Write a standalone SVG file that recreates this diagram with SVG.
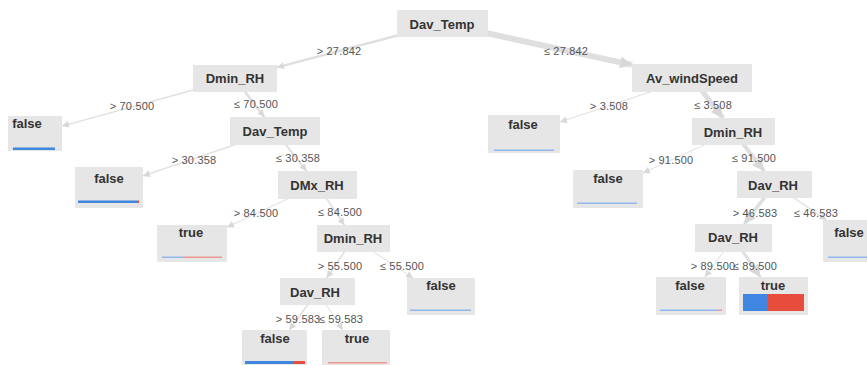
<svg xmlns="http://www.w3.org/2000/svg" width="867" height="365" viewBox="0 0 867 365">
<style>
.bg{fill:#ffffff}
.box{fill:#e6e6e6}
.nl{font-family:"Liberation Sans",Arial,sans-serif;font-size:13px;font-weight:bold;fill:#333333;text-anchor:middle}
.el{font-family:"Liberation Sans",Arial,sans-serif;font-size:11px;fill:#555555;text-anchor:middle;letter-spacing:0.2px}
.e{stroke:#dfdfdf;fill:none;stroke-linecap:butt}
.b{fill:#3f86e0}
.r{fill:#e74c3c}
.lb{fill:#92b8ea}
.lr{fill:#eb9a90}
</style>
<defs>
<marker id="ah" viewBox="0 0 10 10" refX="10" refY="5" markerUnits="userSpaceOnUse" markerWidth="7" markerHeight="7" orient="auto"><path d="M0,0 L10,5 L0,10 z" fill="#d8d8d8"/></marker>
<marker id="ahL" viewBox="0 0 10 10" refX="10" refY="5" markerUnits="userSpaceOnUse" markerWidth="12" markerHeight="12" orient="auto"><path d="M0,0 L10,5 L0,10 z" fill="#d8d8d8"/></marker>
</defs>
<rect class="bg" x="0" y="0" width="867" height="365"/>
<g id="connectors">
<line class="e" x1="442.5" y1="23.5" x2="277" y2="67.4" stroke-width="2.5" marker-end="url(#ah)"/>
<line class="e" x1="442.5" y1="23.5" x2="632" y2="64.9" stroke-width="6" marker-end="url(#ahL)"/>
<line class="e" x1="235" y1="78.5" x2="62" y2="126.1" stroke-width="1.5" marker-end="url(#ah)"/>
<line class="e" x1="235" y1="78.5" x2="264.3" y2="117" stroke-width="2.5" marker-end="url(#ah)"/>
<line class="e" x1="275" y1="131" x2="143" y2="175.9" stroke-width="1.5" marker-end="url(#ah)"/>
<line class="e" x1="275" y1="131" x2="306.5" y2="171" stroke-width="2" marker-end="url(#ah)"/>
<line class="e" x1="317.5" y1="185" x2="227" y2="227.2" stroke-width="1" marker-end="url(#ah)"/>
<line class="e" x1="317.5" y1="185" x2="344.4" y2="225" stroke-width="1.5" marker-end="url(#ah)"/>
<line class="e" x1="353.5" y1="238.5" x2="326.7" y2="278" stroke-width="1.5" marker-end="url(#ah)"/>
<line class="e" x1="353.5" y1="238.5" x2="413.1" y2="278" stroke-width="1" marker-end="url(#ah)"/>
<line class="e" x1="317.5" y1="291.5" x2="289.2" y2="330" stroke-width="1.5" marker-end="url(#ah)"/>
<line class="e" x1="317.5" y1="291.5" x2="342.8" y2="330" stroke-width="1" marker-end="url(#ah)"/>
<line class="e" x1="692" y1="78" x2="560" y2="122" stroke-width="1" marker-end="url(#ah)"/>
<line class="e" x1="692" y1="78" x2="723" y2="118" stroke-width="5" marker-end="url(#ahL)"/>
<line class="e" x1="733.5" y1="131.5" x2="643" y2="173" stroke-width="1" marker-end="url(#ah)"/>
<line class="e" x1="733.5" y1="131.5" x2="764.1" y2="171" stroke-width="4" marker-end="url(#ahL)"/>
<line class="e" x1="774.5" y1="184.5" x2="744.2" y2="224" stroke-width="3.5" marker-end="url(#ahL)"/>
<line class="e" x1="774.5" y1="184.5" x2="826.3" y2="220" stroke-width="1.5" marker-end="url(#ah)"/>
<line class="e" x1="733.5" y1="238" x2="704.9" y2="277" stroke-width="1" marker-end="url(#ah)"/>
<line class="e" x1="733.5" y1="238" x2="760.4" y2="277" stroke-width="3" marker-end="url(#ahL)"/>
<text class="el" x="339" y="55">&gt; 27.842</text>
<text class="el" x="566" y="55">≤ 27.842</text>
<text class="el" x="132" y="110">&gt; 70.500</text>
<text class="el" x="256" y="108">≤ 70.500</text>
<text class="el" x="194" y="164">&gt; 30.358</text>
<text class="el" x="298" y="162">≤ 30.358</text>
<text class="el" x="256" y="217">&gt; 84.500</text>
<text class="el" x="340" y="216">≤ 84.500</text>
<text class="el" x="340" y="270">&gt; 55.500</text>
<text class="el" x="402" y="270">≤ 55.500</text>
<text class="el" x="298" y="323">&gt; 59.583</text>
<text class="el" x="341" y="323">≤ 59.583</text>
<text class="el" x="609" y="110">&gt; 3.508</text>
<text class="el" x="713" y="109">≤ 3.508</text>
<text class="el" x="671" y="164">&gt; 91.500</text>
<text class="el" x="754" y="162">≤ 91.500</text>
<text class="el" x="755" y="217">&gt; 46.583</text>
<text class="el" x="816" y="217">≤ 46.583</text>
<text class="el" x="713" y="270">&gt; 89.500</text>
<text class="el" x="755" y="270">≤ 89.500</text>
</g>
<g id="n1"><rect class="box" x="397" y="10" width="91" height="27"/><text class="nl" x="442" y="28.5">Dav_Temp</text></g>
<g id="n2"><rect class="box" x="193" y="65" width="84" height="27"/><text class="nl" x="235" y="82.5">Dmin_RH</text></g>
<g id="n3"><rect class="box" x="632" y="64" width="120" height="28"/><text class="nl" x="692" y="82.5">Av_windSpeed</text></g>
<g id="n4"><rect class="box" x="8" y="116" width="54" height="35"/><text class="nl" x="27" y="127.5">false</text><rect class="b" x="13" y="147.5" width="42" height="2.5"/></g>
<g id="n5"><rect class="box" x="230" y="117" width="90" height="28"/><text class="nl" x="275" y="135.5">Dav_Temp</text></g>
<g id="n6"><rect class="box" x="75" y="167" width="68" height="41"/><text class="nl" x="109" y="182.5">false</text><rect class="b" x="78" y="200.5" width="59" height="2.5"/><rect class="r" x="137" y="200.5" width="2" height="2.5"/></g>
<g id="n7"><rect class="box" x="278" y="171" width="79" height="28"/><text class="nl" x="317" y="189.5">DMx_RH</text></g>
<g id="n8"><rect class="box" x="157" y="225" width="70" height="37"/><text class="nl" x="191" y="236.5">true</text><rect class="lb" x="162" y="256.5" width="21" height="1.5"/><rect class="lr" x="183" y="256.5" width="39" height="1.5"/></g>
<g id="n9"><rect class="box" x="317" y="225" width="73" height="27"/><text class="nl" x="353" y="242.5">Dmin_RH</text></g>
<g id="n10"><rect class="box" x="407" y="278" width="68" height="37"/><text class="nl" x="441" y="289.5">false</text><rect class="lb" x="410" y="309.5" width="61" height="1.5"/></g>
<g id="n11"><rect class="box" x="280" y="278" width="75" height="27"/><text class="nl" x="315" y="296.5">Dav_RH</text></g>
<g id="n12"><rect class="box" x="242" y="330" width="65" height="40"/><text class="nl" x="275" y="342.5">false</text><rect class="b" x="245" y="361" width="48" height="3"/><rect class="r" x="293" y="361" width="12" height="3"/></g>
<g id="n13"><rect class="box" x="322" y="330" width="68" height="40"/><text class="nl" x="357" y="342.5">true</text><rect class="lr" x="328" y="362" width="59" height="1.5"/></g>
<g id="n14"><rect class="box" x="488" y="115" width="72" height="38"/><text class="nl" x="523" y="128.5">false</text><rect class="lb" x="494" y="149.5" width="60" height="1.5"/></g>
<g id="n15"><rect class="box" x="692" y="118" width="83" height="27"/><text class="nl" x="733" y="136.5">Dmin_RH</text></g>
<g id="n16"><rect class="box" x="573" y="170" width="70" height="38"/><text class="nl" x="608" y="182.5">false</text><rect class="lb" x="577" y="202.5" width="60" height="1.5"/></g>
<g id="n17"><rect class="box" x="737" y="171" width="75" height="27"/><text class="nl" x="773" y="189.5">Dav_RH</text></g>
<g id="n18"><rect class="box" x="823" y="220" width="68" height="42"/><text class="nl" x="849" y="236.5">false</text><rect class="lb" x="828" y="256.5" width="39" height="1.5"/></g>
<g id="n19"><rect class="box" x="695" y="224" width="77" height="28"/><text class="nl" x="733" y="241.5">Dav_RH</text></g>
<g id="n20"><rect class="box" x="656" y="277" width="70" height="38"/><text class="nl" x="690" y="289.5">false</text><rect class="lb" x="660" y="309.5" width="58" height="1.5"/><rect class="lr" x="718" y="309.5" width="4" height="1.5"/></g>
<g id="n21"><rect class="box" x="739" y="277" width="69" height="38"/><text class="nl" x="773" y="289.5">true</text><rect class="b" x="743" y="294" width="25" height="17"/><rect class="r" x="768" y="294" width="36" height="17"/></g>
</svg>
